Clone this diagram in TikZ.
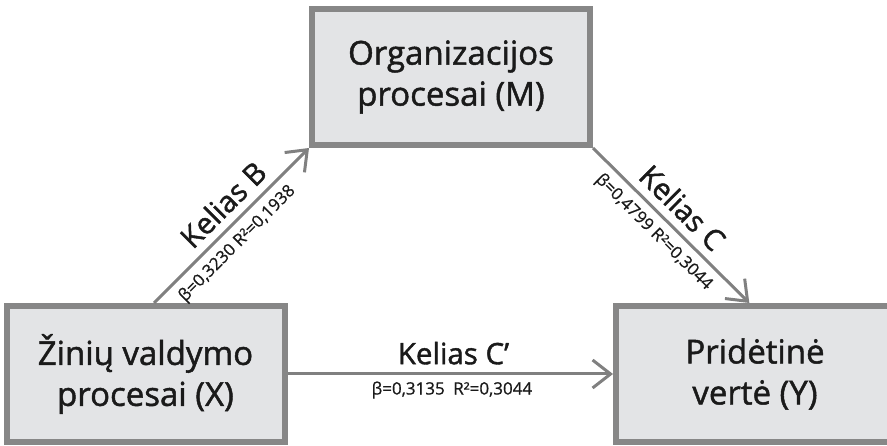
\documentclass[tikz,border=0pt]{standalone}
\usepackage{fontspec}
\setmainfont{Open Sans}[FakeBold=1.4]
\newfontfamily\coeffont{Open Sans}[FakeBold=0.7]
\usetikzlibrary{arrows.meta,calc}
\definecolor{boxfill}{HTML}{E3E4E6}
\definecolor{boxline}{HTML}{878787}
\definecolor{arrowgray}{HTML}{808080}
\definecolor{ink}{HTML}{1A1A1A}
\begin{document}
\begin{tikzpicture}[x=1pt,y=-1pt,
  varbox/.style={draw=boxline, fill=boxfill, line width=6pt,
    minimum width=278pt, minimum height=136pt, align=center,
    text=ink, font=\fontsize{33}{41}\selectfont},
  path/.style={draw=arrowgray, line width=3pt,
    -{Straight Barb[length=18pt,width=28pt,line width=3pt]}},
  pathname/.style={text=ink, inner sep=0pt, font=\fontsize{29.5}{33}\selectfont},
  coef/.style={text=ink, inner sep=0pt, font=\coeffont\fontsize{17}{19}\selectfont}]
  \clip (0,0) rectangle (887,446);
  \useasboundingbox (0,0) rectangle (887,446);

  % variables
  \node[varbox] (M) at (451,77) {Organizacijos\\procesai (M)};
  \node[varbox] (X) at (145.5,374) {Žinių valdymo\\procesai (X)};
  \node[varbox] (Y) at (755,374) {Pridėtinė\\vertė (Y)};

  % paths
  \coordinate (xb) at ($(X.north west)!0.53!(X.north east)$);
  \coordinate (yc) at ($(Y.north west)!0.48!(Y.north east)$);

  \draw[path] (xb) -- (M.south west)
    node[pathname, sloped, above=8pt, pos=0.54] {Kelias B}
    node[coef, sloped, below=7pt, pos=0.46] {β=0,3230 R²=0,1938};
  \draw[path] (M.south east) -- (yc)
    node[pathname, sloped, above=8pt, pos=0.48] {Kelias C}
    node[coef, sloped, below=7pt, pos=0.465] {β=0,4799 R²=0,3044};
  \draw[path] (X.east) -- (Y.west)
    node[pathname, above=8pt, pos=0.51] {Kelias C’}
    node[coef, below=6pt, pos=0.505] {β=0,3135\enspace R²=0,3044};
\end{tikzpicture}
\end{document}
